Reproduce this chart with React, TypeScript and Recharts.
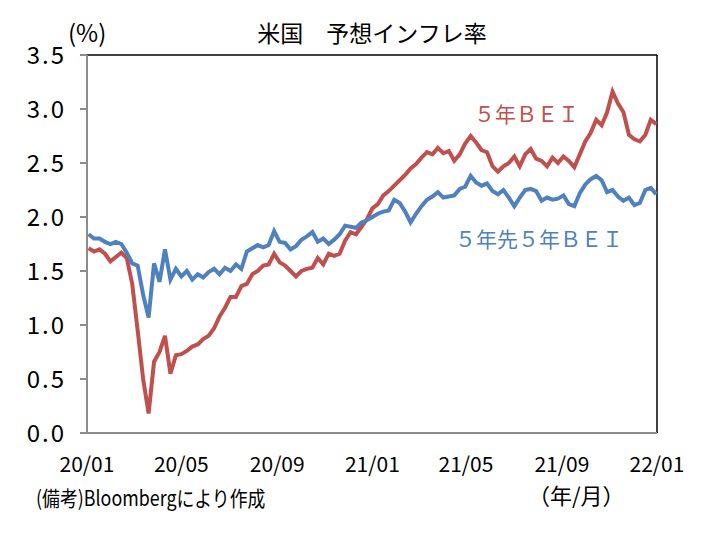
import React from 'react';
import { LineChart, Line, XAxis, YAxis, ReferenceLine } from 'recharts';

// weekly observations, first Friday of 2020 onward (days since 2020-01-01)
const startDay = 2;

const bei5y = [
  1.71, 1.68, 1.70, 1.66, 1.59, 1.63, 1.67, 1.62, 1.38, 0.95,
  0.50, 0.18, 0.66, 0.75, 0.90, 0.55, 0.72, 0.73, 0.76, 0.80,
  0.82, 0.87, 0.90, 0.97, 1.08, 1.16, 1.26, 1.26, 1.36, 1.38,
  1.47, 1.50, 1.55, 1.56, 1.66, 1.58, 1.55, 1.50, 1.45, 1.50,
  1.52, 1.53, 1.62, 1.56, 1.66, 1.64, 1.66, 1.78, 1.86, 1.84,
  1.91, 1.98, 2.08, 2.12, 2.20, 2.24, 2.29, 2.34, 2.39, 2.45,
  2.49, 2.55, 2.60, 2.58, 2.64, 2.59, 2.61, 2.52, 2.58, 2.68,
  2.75, 2.69, 2.62, 2.60, 2.47, 2.42, 2.47, 2.50, 2.56, 2.47,
  2.58, 2.63, 2.54, 2.52, 2.47, 2.55, 2.50, 2.56, 2.52, 2.46,
  2.58, 2.70, 2.78, 2.90, 2.85, 2.97, 3.16, 3.05, 2.97, 2.76,
  2.72, 2.70, 2.76, 2.90, 2.86,
];

const bei5y5y = [
  1.84, 1.80, 1.80, 1.77, 1.75, 1.77, 1.75, 1.67, 1.57, 1.55,
  1.28, 1.07, 1.57, 1.40, 1.70, 1.42, 1.52, 1.45, 1.50, 1.42,
  1.47, 1.44, 1.49, 1.52, 1.47, 1.53, 1.50, 1.56, 1.52, 1.68,
  1.71, 1.74, 1.72, 1.74, 1.87, 1.77, 1.76, 1.70, 1.73, 1.79,
  1.82, 1.86, 1.77, 1.80, 1.75, 1.79, 1.84, 1.92, 1.91, 1.90,
  1.95, 1.97, 2.00, 2.03, 2.05, 2.06, 2.16, 2.13, 2.05, 1.95,
  2.03, 2.10, 2.16, 2.19, 2.23, 2.18, 2.19, 2.20, 2.26, 2.28,
  2.38, 2.32, 2.29, 2.31, 2.24, 2.21, 2.25, 2.18, 2.10, 2.18,
  2.25, 2.26, 2.24, 2.15, 2.18, 2.16, 2.17, 2.20, 2.12, 2.10,
  2.22, 2.30, 2.35, 2.38, 2.34, 2.23, 2.25, 2.19, 2.15, 2.18,
  2.11, 2.13, 2.25, 2.27, 2.21,
];

const xTickDays = [0, 121, 244, 366, 486, 609, 731];
const xTickLabels = ['20/01', '20/05', '20/09', '21/01', '21/05', '21/09', '22/01'];
const yTicks = [0, 0.5, 1, 1.5, 2, 2.5, 3, 3.5];

const data = bei5y.map((v, i) => ({ day: startDay + i * 7, bei: v, fwd: bei5y5y[i] }));

const RED = '#c0504d';
const BLUE = '#4f81bd';
const JP = "'Noto Sans CJK JP', sans-serif";

export default function App() {
  return (
    <div style={{ position: 'absolute', left: 0, top: 0, width: 708, height: 538, background: '#fff', fontFamily: JP }}>
      <LineChart width={708} height={538} data={data} margin={{ top: 55, right: 51, left: 27, bottom: 75 }}>
        <XAxis
          dataKey="day"
          type="number"
          domain={[0, 731]}
          ticks={xTickDays}
          tickFormatter={(d) => xTickLabels[xTickDays.indexOf(d)]}
          tickLine={false}
          axisLine={{ stroke: '#8c8c8c', strokeWidth: 2 }}
          tick={{ fill: '#000', fontSize: 21, fontFamily: JP }}
          tickMargin={18}
          height={30}
        />
        <YAxis
          type="number"
          domain={[0, 3.5]}
          ticks={yTicks}
          tickFormatter={(v) => v.toFixed(1)}
          axisLine={{ stroke: '#8c8c8c', strokeWidth: 2 }}
          tickLine={{ stroke: '#8c8c8c', strokeWidth: 2 }}
          tickSize={7}
          tickMargin={14}
          tick={{ fill: '#000', fontSize: 24, fontFamily: JP, letterSpacing: 2 }}
          width={60}
        />
        <ReferenceLine y={3.5} stroke="#000" strokeWidth={1.5} />
        <ReferenceLine x={731} stroke="#000" strokeWidth={1.5} />
        <Line dataKey="bei" stroke={RED} strokeWidth={4} dot={false} isAnimationActive={false} />
        <Line dataKey="fwd" stroke={BLUE} strokeWidth={4} dot={false} isAnimationActive={false} />
      </LineChart>
      <div style={{ position: 'absolute', left: 0, width: 708, top: 15, textAlign: 'center', fontSize: 23, paddingLeft: 36, boxSizing: 'border-box' }}>
        米国　予想インフレ率
      </div>
      <div style={{ position: 'absolute', left: 68, top: 14, fontSize: 24, whiteSpace: 'nowrap' }}>(%)</div>
      <div style={{ position: 'absolute', left: 474, top: 98, fontSize: 21, color: RED }}>５年ＢＥＩ</div>
      <div style={{ position: 'absolute', left: 455, top: 223, fontSize: 21, color: BLUE }}>５年先５年ＢＥＩ</div>
      <div style={{ position: 'absolute', left: 36, top: 482, fontSize: 21, transform: 'scaleX(0.85)', transformOrigin: 'left top', whiteSpace: 'nowrap' }}>
        (備考)Bloombergにより作成
      </div>
      <div style={{ position: 'absolute', left: 528, top: 478, fontSize: 22, whiteSpace: 'nowrap' }}>（年/月）</div>
    </div>
  );
}
